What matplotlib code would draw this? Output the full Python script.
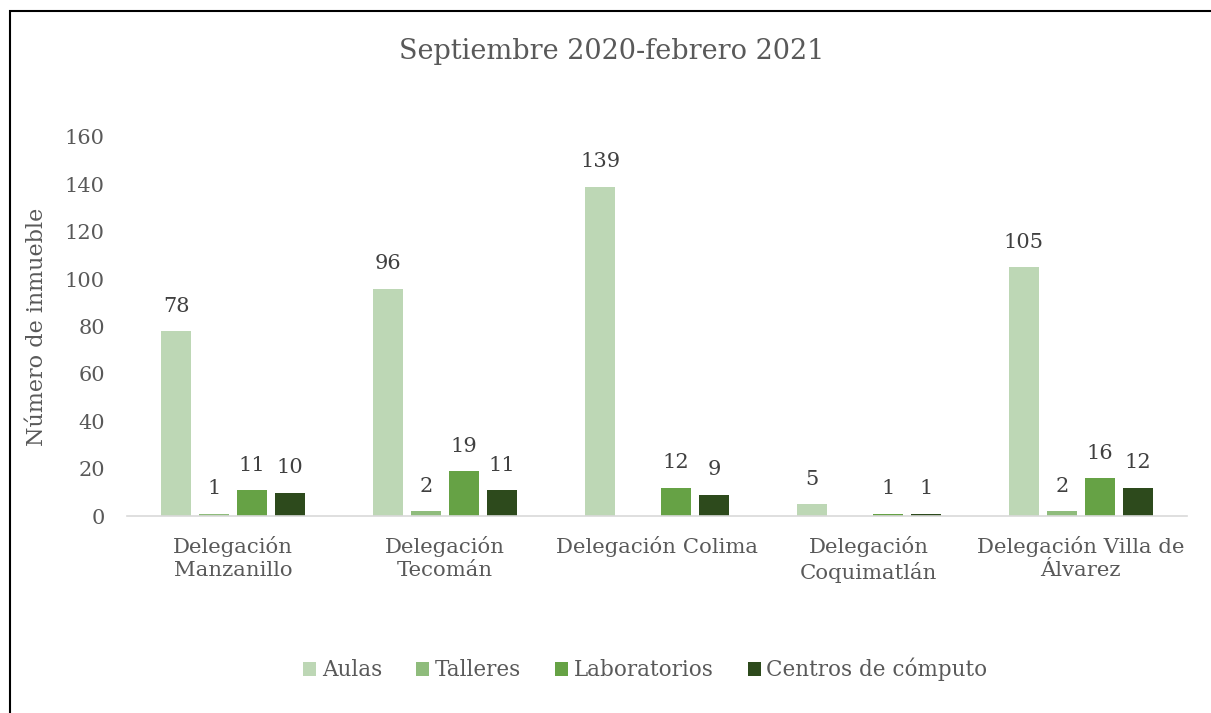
import numpy as np
import matplotlib.pyplot as plt
from matplotlib.patches import Rectangle

# Data
categorias = ['Delegación\nManzanillo', 'Delegación\nTecomán', 'Delegación Colima',
              'Delegación\nCoquimatlán', 'Delegación Villa de\nÁlvarez']
series = ['Aulas', 'Talleres', 'Laboratorios', 'Centros de cómputo']
aulas = [78, 96, 139, 5, 105]
talleres = [1, 2, 0, 0, 2]
laboratorios = [11, 19, 12, 1, 16]
centros = [10, 11, 9, 1, 12]
colores = ['#bdd7b5', '#8fbc7c', '#66a245', '#2d4a1c']

plt.rcParams['font.family'] = ['DejaVu Serif']
texto = '#595959'

fig = plt.figure(figsize=(12.11, 7.13), dpi=100)
ax = fig.add_axes([0.105, 0.276, 0.875, 0.532])

# figure border (left + top visible in the reference)
fig.patches.append(Rectangle((10 / 1211, -0.05), 1.2, 1.05 - 11 / 713,
                             transform=fig.transFigure, fill=False,
                             edgecolor='black', linewidth=1.5))

x = np.arange(len(categorias))
slot = 0.179
ancho = 0.1415
valores = [aulas, talleres, laboratorios, centros]
for i, (vals, nombre, col) in enumerate(zip(valores, series, colores)):
    pos = x + (i - 1.5) * slot
    ax.bar(pos, vals, width=ancho, color=col, label=nombre)
    for px, v in zip(pos, vals):
        if v > 0:
            ax.annotate(str(v), (px, v), xytext=(0, 18), textcoords='offset points',
                        ha='center', va='center', fontsize=15, color='#404040')

ax.set_xlim(-0.5, 4.5)
ax.set_ylim(0, 160)
ax.set_yticks(range(0, 161, 20))
ax.set_xticks(x)
ax.set_xticklabels(categorias, fontsize=15.3, color=texto, linespacing=1.3)
ax.tick_params(axis='y', labelsize=15, labelcolor=texto, length=0, pad=16)
ax.tick_params(axis='x', length=0, pad=14)
for s in ['top', 'right', 'left']:
    ax.spines[s].set_visible(False)
ax.spines['bottom'].set_color('#d9d9d9')
ax.spines['bottom'].set_linewidth(1.2)

ax.set_ylabel('Número de inmueble', fontsize=16, color=texto, labelpad=12)
fig.text(0.505, 0.928, 'Septiembre 2020-febrero 2021', ha='center', va='center',
         fontsize=19.5, color=texto)

fig.legend(loc='center', bbox_to_anchor=(0.533, 0.061), ncol=4, frameon=False,
           fontsize=15.5, handlelength=0.6, handleheight=0.6, handletextpad=0.25,
           columnspacing=1.6, labelcolor=texto)

fig.savefig('out.png', dpi=100)
